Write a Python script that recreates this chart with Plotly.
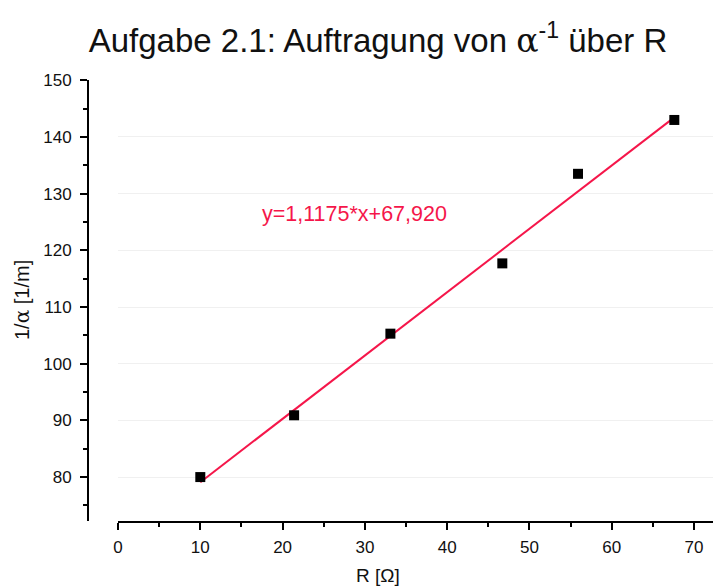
import plotly.graph_objects as go

# Data
R_values = [10.0, 21.4, 33.1, 46.7, 55.9, 67.6]
inv_alpha = [80.0, 90.9, 105.3, 117.7, 133.5, 143.0]

# Linear fit as stated in the chart
fit_slope = 1.1175
fit_intercept = 67.920
fit_x = [10.0, 67.6]
fit_y = [fit_slope * x + fit_intercept for x in fit_x]
fit_label = "y=1,1175*x+67,920"

x_ticks = [0, 10, 20, 30, 40, 50, 60, 70]
y_ticks = [80, 90, 100, 110, 120, 130, 140, 150]

W, H = 713, 587
ML, MR, MT, MB = 88, 0, 80, 66
plot_w = W - ML - MR
plot_h = H - MT - MB

fig = go.Figure()

fig.add_trace(go.Scatter(
    x=fit_x, y=fit_y, mode="lines",
    line=dict(color="#f5164a", width=2),
    showlegend=False, hoverinfo="skip",
))
fig.add_trace(go.Scatter(
    x=R_values, y=inv_alpha, mode="markers",
    marker=dict(symbol="square", size=10, color="black"),
    showlegend=False,
))

axis_font = dict(family="Liberation Sans, Arial, sans-serif", size=17, color="#111111")

fig.update_layout(
    width=W, height=H,
    margin=dict(l=ML, r=MR, t=MT, b=MB, autoexpand=False),
    paper_bgcolor="white", plot_bgcolor="white",
    font=dict(family="Liberation Sans, Arial, sans-serif", color="black"),
    title=dict(
        text="Aufgabe 2.1: Auftragung von <span style='font-family:DejaVu Serif'>α</span><sup>-1</sup> über R",
        x=378 / W, xref="container", xanchor="center",
        y=1 - 40 / H, yref="container", yanchor="middle",
        font=dict(size=33, color="#111111"),
        automargin=False,
    ),
    xaxis=dict(
        domain=[30 / plot_w, 1],
        range=[0, 72.3],
        anchor="y", automargin=False,
        tickmode="array", tickvals=x_ticks,
        ticks="outside", ticklen=7, tickwidth=2, tickcolor="black",
        ticklabelstandoff=3,
        minor=dict(dtick=5, tick0=0, ticks="outside", ticklen=4, tickwidth=2, tickcolor="black", showgrid=False),
        showline=True, linewidth=2, linecolor="black",
        showgrid=False, zeroline=False,
        tickfont=axis_font,
    ),
    yaxis=dict(
        domain=[0, 1],
        range=[72.25, 150.05],
        anchor="free", position=0, automargin=False,
        tickmode="array", tickvals=y_ticks,
        ticks="outside", ticklen=7, tickwidth=2, tickcolor="black",
        ticklabelstandoff=5,
        minor=dict(dtick=5, tick0=0, ticks="outside", ticklen=4, tickwidth=2, tickcolor="black", showgrid=False),
        showline=True, linewidth=2, linecolor="black",
        showgrid=True, gridcolor="#f0f0f0", gridwidth=1, zeroline=False,
        tickfont=axis_font,
    ),
    annotations=[
        dict(text="R [Ω]", xref="paper", yref="paper",
             x=(378 - ML) / plot_w, y=-(575 - (MT + plot_h)) / plot_h,
             showarrow=False, xanchor="center", yanchor="middle",
             font=dict(size=19, color="#111111")),
        dict(text="1/<span style='font-family:DejaVu Serif'>α</span> [1/m]", xref="paper", yref="paper",
             x=(22 - ML) / plot_w, y=(MT + plot_h - 300) / plot_h,
             showarrow=False, xanchor="center", yanchor="middle", textangle=-90,
             font=dict(size=20, color="#111111")),
        dict(text=fit_label, xref="x", yref="y", x=28.7, y=126.4,
             showarrow=False, xanchor="center", yanchor="middle",
             font=dict(size=21.5, color="#f5164a")),
    ],
)

fig.write_html(
    "out.html",
    config={"displayModeBar": False},
    post_script="document.body.style.margin='0';document.body.style.overflow='hidden';",
)
